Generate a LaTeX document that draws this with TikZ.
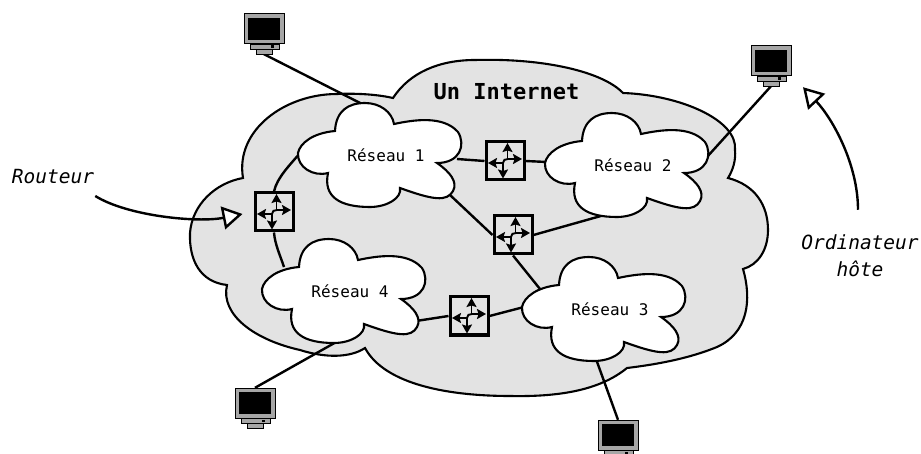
\documentclass[tikz,border=0pt]{standalone}
\usepackage{fontspec}
\setmonofont{DejaVu Sans Mono}
\usetikzlibrary{arrows.meta,calc}
\definecolor{netgray}{HTML}{E3E3E3}
\definecolor{bezel}{HTML}{A6A6A6}
\tikzset{
  link/.style={line width=2.4pt,black},
  cloudline/.style={line width=2.1pt,black,line join=miter},
  netlabel/.style={font=\ttfamily\fontsize{16}{18}\selectfont,inner sep=0pt},
  note/.style={font=\ttfamily\itshape\fontsize{19.5}{27}\selectfont,inner sep=0pt,align=center},
  routerbox/.style={draw=black,line width=3pt,minimum size=38pt,inner sep=0pt,fill=netgray},
  hostspot/.style={minimum width=41pt,minimum height=40pt,inner sep=0pt},
  callout/.style={line width=2.4pt,-{Triangle[open,fill=white,length=20pt,width=23pt,line width=2.4pt]}},
  flowtip/.style={line width=1.9pt,-{Stealth[length=9pt,width=10pt,inset=1.5pt]}}
}
\newcommand{\smallcloud}[1]{%
  \begin{scope}[shift={(#1)}]
  \draw[cloudline,fill=white] (-88,-2)
    .. controls (-86,-12) and (-73,-22) .. (-51,-24)
    .. controls (-50,-44) and (-38,-52) .. (-21,-52)
    .. controls (-6,-52) and (6,-43) .. (8,-31)
    .. controls (27,-35) and (57,-40) .. (72,-23)
    .. controls (80,-10) and (74,8) .. (51,8)
    .. controls (64,17) and (72,27) .. (67,36)
    .. controls (61,47) and (47,45) .. (14,33)
    .. controls (16,43) and (1,52) .. (-16,52)
    .. controls (-46,52) and (-63,42) .. (-58,18)
    .. controls (-73,22) and (-89,12) .. cycle;
  \end{scope}}
\newcommand{\routericon}[1]{%
  \begin{scope}[shift={(#1)}]
  \draw[flowtip] (-2,2) .. controls (-2,-1) and (0,-2) .. (3,-2) -- (17,-2);
  \draw[flowtip] (-2,2) -- (-17,2);
  \draw[flowtip] (2.5,-2) -- (2.5,-18);
  \draw[flowtip] (-2,2) -- (-2,17.5);
  \end{scope}}
\newcommand{\hosticon}[1]{%
  \begin{scope}[shift={(#1)}]
  \draw[black,line width=0.9pt,fill=bezel] (-14,15) rectangle (15,20.5);
  \fill[black] (6.5,16.5) rectangle (9.5,19);
  \draw[black,line width=0.9pt,fill=bezel] (-8,20.5) rectangle (8,25);
  \draw[black,line width=1pt,fill=bezel] (-20,-15) rectangle (20.5,15);
  \fill[black] (-16,-11) rectangle (16,11);
  \end{scope}}
\begin{document}
\begin{tikzpicture}[x=1pt,y=-1pt]
\useasboundingbox (0,0) rectangle (921,454);
% Internet cloud
\draw[cloudline,fill=netgray] (393,98)
  .. controls (410,72) and (440,60) .. (475,60)
  .. controls (545,58) and (603,72) .. (623,93)
  .. controls (680,95) and (738,120) .. (735,150)
  .. controls (736,160) and (733,170) .. (728,178)
  .. controls (755,185) and (768,205) .. (768,230)
  .. controls (768,250) and (758,265) .. (743,269)
  .. controls (752,300) and (748,333) .. (717,347)
  .. controls (690,358) and (660,364) .. (627,368)
  .. controls (600,390) and (560,397) .. (510,396)
  .. controls (450,396) and (385,385) .. (365,348)
  .. controls (350,358) and (325,358) .. (300,350)
  .. controls (255,340) and (220,315) .. (227,285)
  .. controls (200,282) and (189,260) .. (190,233)
  .. controls (192,205) and (215,183) .. (243,178)
  .. controls (235,130) and (285,94) .. (337,94)
  .. controls (360,93) and (380,95) .. cycle;
% anchors
\node[hostspot] (hostA) at (264,34) {};
\node[hostspot] (hostB) at (771,66) {};
\node[hostspot] (hostC) at (255,408) {};
\node[hostspot] (hostD) at (618,440) {};
\coordinate (net1) at (386,155);
\coordinate (net2) at (633,165);
\coordinate (net3) at (610,309);
\coordinate (net4) at (350,291);
% links
\node[routerbox] (rtrW) at (274,212) {};
\node[routerbox] (rtrN) at (505,161) {};
\node[routerbox] (rtrC) at (513,235) {};
\node[routerbox] (rtrS) at (469,316) {};
\draw[link] (hostA.south) -- ($(net1)+(-22,-50)$);
\draw[link] (hostB.south) -- ($(net2)+(74,-8)$);
\draw[link] (hostC.north) -- ($(net4)+(-12,50)$);
\draw[link] (hostD.north) -- ($(net3)+(-14,50)$);
\draw[link] (rtrW.north) .. controls +(3,-14) and +(-10,12) .. ($(net1)+(-86,-2)$);
\draw[link] (rtrW.south) .. controls +(1,12) and +(-4,-12) .. ($(net4)+(-66,-24)$);
\draw[link] (rtrN.west) -- ($(net1)+(71,4)$);
\draw[link] (rtrN.east) -- ($(net2)+(-86,-3)$);
\draw[link] (rtrC.west) -- ($(net1)+(64,40)$);
\draw[link] (rtrC.east) -- ($(net2)+(-18,47)$);
\draw[link] (rtrC.south) -- ($(net3)+(-70,-20)$);
\draw[link] (rtrS.west) -- ($(net4)+(66,30)$);
\draw[link] (rtrS.east) -- ($(net3)+(-86,-2)$);
% small clouds
\smallcloud{net1}\smallcloud{net2}\smallcloud{net3}\smallcloud{net4}
\node[netlabel] (lab1) at (net1) {Réseau 1};
\node[netlabel] (lab2) at (net2) {Réseau 2};
\node[netlabel] (lab3) at (net3) {Réseau 3};
\node[netlabel] (lab4) at (net4) {Réseau 4};
\routericon{rtrW}\routericon{rtrN}\routericon{rtrC}\routericon{rtrS}
\hosticon{264,29}\hosticon{771,61}\hosticon{255,403}\hosticon{618,435}
% texts
\node[inner sep=0pt,font=\ttfamily\bfseries\fontsize{22}{24}\selectfont] (title) at (506.5,92) {Un Internet};
\node[note] (noteR) at (53,177) {Routeur};
\node[note] (noteH) at (860,256) {Ordinateur\\hôte};
\coordinate (tipR) at ($(rtrW.west)+(-11,2)$);
\coordinate (tipH) at ($(hostB.south)+(32,1)$);
\draw[callout] ($(noteR.east)+(1,19)$) .. controls +(32,20) and +(-45,9) .. (tipR);
\draw[callout] ($(noteH.north)+(-2,-25)$) .. controls +(0,-45) and +(30,32) .. (tipH);
\end{tikzpicture}
\end{document}
